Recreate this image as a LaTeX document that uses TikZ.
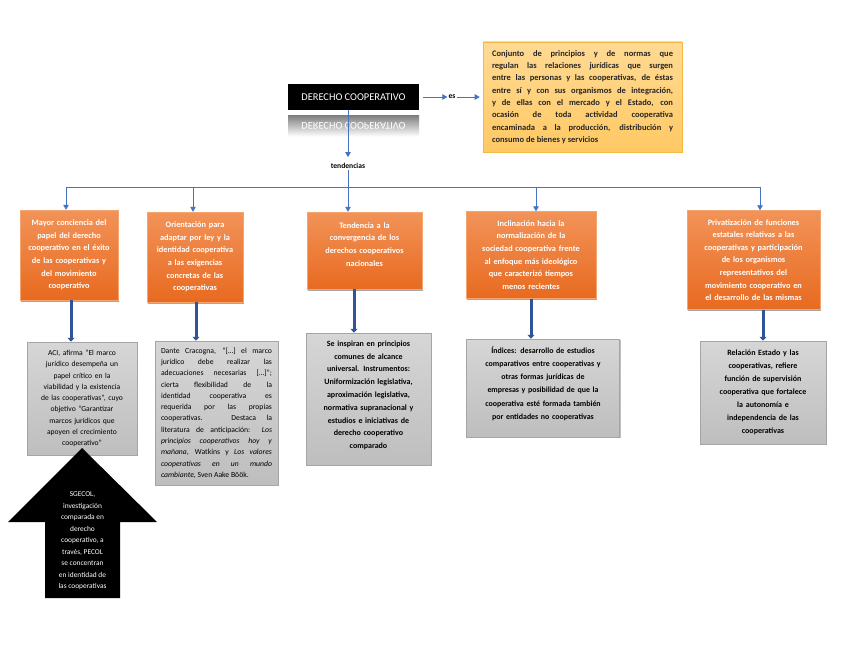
\documentclass[tikz,border=0pt]{standalone}
\usepackage{fontspec}
\usepackage{graphicx}
\setmainfont{Carlito}
\usetikzlibrary{arrows.meta,shadows}
\tolerance=9999
\hbadness=10000
\definecolor{connc}{HTML}{4472C4}
\definecolor{thickc}{HTML}{2F5597}
\definecolor{otop}{HTML}{F29358}
\definecolor{obot}{HTML}{E86A20}
\definecolor{obord}{HTML}{F4A46E}
\definecolor{gtop}{HTML}{D6D6D6}
\definecolor{gbot}{HTML}{BEBEBE}
\definecolor{gbord}{HTML}{A5A5A5}
\definecolor{dtop}{HTML}{FFDA94}
\definecolor{dbot}{HTML}{FFC964}
\definecolor{dbord}{HTML}{F5B843}
\begin{document}
\begin{tikzpicture}[x=1pt,y=-1pt,
  conn/.style={draw=connc, line width=0.8pt, -{Triangle[width=5.5pt,length=5pt]}},
  plain/.style={draw=connc, line width=0.8pt},
  fat/.style={draw=thickc, line width=3pt, -{Triangle[width=7pt,length=4pt]}},
  obox/.style={rectangle, inner sep=0pt, top color=otop, bottom color=obot, draw=obord, line width=0.4pt,
    drop shadow={shadow xshift=1.2pt, shadow yshift=-1.5pt, fill=black, opacity=0.35},
    text=white, font=\fontsize{8.3}{12.6}\selectfont\bfseries, align=center},
  gbox/.style={rectangle, inner sep=0pt, top color=gtop, bottom color=gbot, draw=gbord, line width=0.5pt,
    drop shadow={shadow xshift=1pt, shadow yshift=-1.2pt, fill=black, opacity=0.25},
    text=black, align=center},
  lbl/.style={font=\fontsize{7.6}{9}\selectfont\bfseries, inner sep=1pt}
]
\useasboundingbox (0,0) rectangle (848,655);
\fill[white] (0,0) rectangle (848,655);

% title and reflection
\node[rectangle, inner sep=0pt, fill=black, text=white, minimum width=131pt, minimum height=26pt,
  font=\fontsize{10.4}{12}\selectfont] (title) at (353.5,97) {DERECHO COOPERATIVO};
\node[rectangle, inner sep=0pt, top color=black!50, bottom color=white, text=white, minimum width=131pt, minimum height=21pt,
  font=\fontsize{10.4}{12}\selectfont] (refl) at (353.5,126) {\scalebox{1}[-1]{DERECHO COOPERATIVO}};

% es and definition
\node[lbl] (es) at (452,97) {es};
\node[rectangle, inner sep=0pt, top color=dtop, bottom color=dbot, draw=dbord, line width=0.6pt,
  minimum width=199pt, minimum height=110pt, text width=181pt, align=justify,
  font=\fontsize{8.5}{12.3}\selectfont\bfseries, text=black!85] (def) at (582.5,97)
  {Conjunto de principios y de normas que\linebreak regulan las relaciones jurídicas que surgen\linebreak entre las personas y las cooperativas, de éstas\linebreak entre sí y con sus organismos de integración,\linebreak y de ellas con el mercado y el Estado, con\linebreak ocasión de toda actividad cooperativa\linebreak encaminada a la producción, distribución y\linebreak consumo de bienes y servicios};

\draw[conn] (title.east) ++(4,0) coordinate (te) (te) -- (es.west);
\draw[conn] (es.east) -- ([xshift=-3pt]def.west);

% tendencias
\node[lbl] (tend) at (348,166) {tendencias};
\coordinate (b1) at (66,187);
\coordinate (b2) at (193,187);
\coordinate (b3) at (348,187);
\coordinate (b4) at (536,187);
\coordinate (b5) at (760,187);
\draw[conn, shorten >=5pt] (title.south -| b3) -- (tend.north);
\draw[plain] (tend.south) -- (b3);
\draw[plain] (b1) -- (b5);

% orange boxes
\node[obox, minimum width=98pt, minimum height=90pt, text width=92pt] (o1) at (69,255)
  {Mayor conciencia del\\ papel del derecho\\ cooperativo en el éxito\\ de las cooperativas y\\ del movimiento\\ cooperativo};
\node[obox, minimum width=96pt, minimum height=90pt, text width=92pt] (o2) at (195,257)
  {Orientación para\\ adaptar por ley y la\\ identidad cooperativa\\ a las exigencias\\ concretas de las\\ cooperativas};
\node[obox, minimum width=115pt, minimum height=77pt, text width=110pt] (o3) at (364.5,250.5)
  {Tendencia a la\\ convergencia de los\\ derechos cooperativos\\ nacionales\\ \mbox{}};
\node[obox, minimum width=130pt, minimum height=87pt, text width=125pt] (o4) at (531,255)
  {Inclinación hacia la\\ normalización de la\\ sociedad cooperativa frente\\ al enfoque más ideológico\\ que caracterizó tiempos\\ menos recientes};
\node[obox, minimum width=133pt, minimum height=99pt, text width=128pt] (o5) at (753.5,260)
  {Privatización de funciones\\ estatales relativas a las\\ cooperativas y participación\\ de los organismos\\ representativos del\\ movimiento cooperativo en\\ el desarrollo de las mismas};

\draw[conn] (b1) -- (b1 |- o1.north);
\draw[conn] (b2) -- (b2 |- o2.north);
\draw[conn] (b3) -- (b3 |- o3.north);
\draw[conn] (b4) -- (b4 |- o4.north);
\draw[conn] (b5) -- (b5 |- o5.north);

% gray boxes
\node[gbox, minimum width=110pt, minimum height=113pt, text width=106pt, font=\fontsize{7.6}{11.25}\selectfont] (g1) at (82,398.5)
  {ACI, afirma “El marco\\ jurídico desempeña un\\ papel crítico en la\\ viabilidad y la existencia\\ de las cooperativas”, cuyo\\ objetivo “Garantizar\\ marcos jurídicos que\\ apoyen el crecimiento\\ cooperativo”};
\node[gbox, minimum width=123pt, minimum height=144pt, text width=111pt, align=justify,
  font=\fontsize{7.7}{11.3}\selectfont] (g2) at (216.5,413)
  {Dante Cracogna, “[…] el marco\linebreak jurídico debe realizar las\linebreak adecuaciones necesarias […]”;\linebreak cierta flexibilidad de la\linebreak identidad cooperativa es\linebreak requerida por las propias\linebreak cooperativas. Destaca la\linebreak literatura de anticipación: \textit{Los}\linebreak \textit{principios cooperativos hoy y}\linebreak \textit{mañana}, Watkins y \textit{Los valores}\linebreak \textit{cooperativas en un mundo}\linebreak \textit{cambiante}, Sven Aake Böök.};
\node[gbox, minimum width=125pt, minimum height=132pt, text width=121pt, font=\fontsize{8}{12.8}\selectfont\bfseries] (g3) at (368.5,399)
  {Se inspiran en principios\\ comunes de alcance\\ universal. Instrumentos:\\ Uniformización legislativa,\\ aproximación legislativa,\\ normativa supranacional y\\ estudios e iniciativas de\\ derecho cooperativo\\ comparado\\[-4pt]\mbox{}};
\node[gbox, minimum width=153pt, minimum height=98pt, text width=149pt, font=\fontsize{7.9}{13.2}\selectfont\bfseries] (g4) at (543,388)
  {Índices: desarrollo de estudios\\ comparativos entre cooperativas y\\ otras formas jurídicas de\\ empresas y posibilidad de que la\\ cooperativa esté formada también\\ por entidades no cooperativas\\[-3pt]\mbox{}};
\node[gbox, minimum width=126pt, minimum height=103pt, text width=122pt, font=\fontsize{8}{13}\selectfont\bfseries] (g5) at (763,392.5)
  {Relación Estado y las\\ cooperativas, refiere\\ función de supervisión\\ cooperativa que fortalece\\ la autonomía e\\ independencia de las\\ cooperativas};

\coordinate (t1) at (71,0);
\coordinate (t2) at (196,0);
\coordinate (t3) at (354,0);
\coordinate (t4) at (531,0);
\coordinate (t5) at (763,0);
\draw[fat] (o1.south -| t1) -- (g1.north -| t1);
\draw[fat] (o2.south -| t2) -- (g2.north -| t2);
\draw[fat] (o3.south -| t3) -- (g3.north -| t3);
\draw[fat] (o4.south -| t4) -- (g4.north -| t4);
\draw[fat] (o5.south -| t5) -- (g5.north -| t5);

% black up arrow
\fill[black] (82,448) -- (157,522) -- (120,522) -- (120,598) -- (45,598) -- (45,522) -- (8,522) -- cycle;
\node[text=white, align=center, inner sep=0pt, font=\fontsize{7.4}{11.5}\selectfont] (sg) at (82.5,541)
  {SGECOL,\\ investigación\\ comparada en\\ derecho\\ cooperativo, a\\ través, PECOL\\ se concentran\\ en identidad de\\ las cooperativas};
\end{tikzpicture}
\end{document}
